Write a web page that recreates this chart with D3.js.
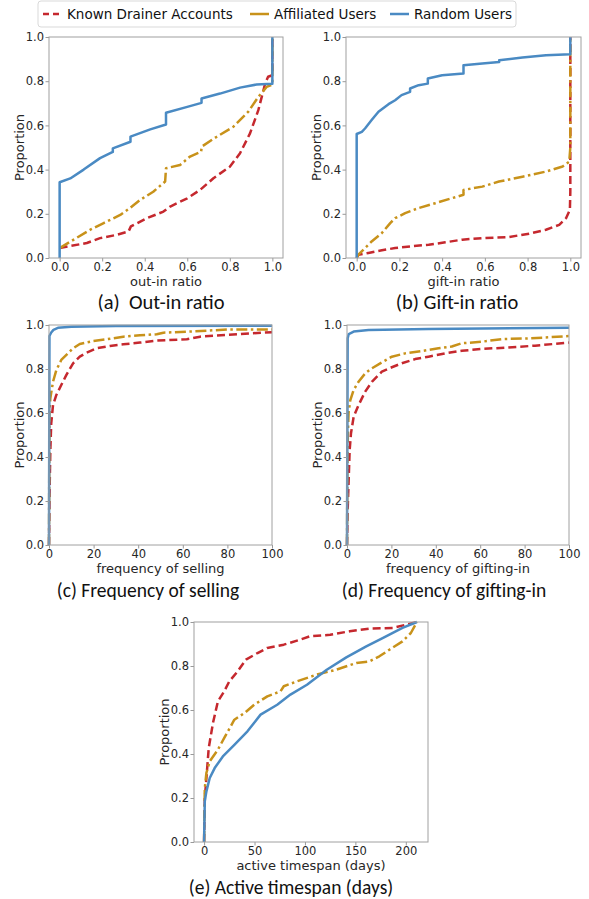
<!DOCTYPE html>
<html><head><meta charset="utf-8">
<script src="https://cdn.jsdelivr.net/npm/d3@7/dist/d3.min.js"></script>
<style>body{margin:0;background:#fff}svg{display:block}</style>
</head><body>
<svg id="chart" width="589" height="899"></svg>
<script>
// ---------- data ----------
const seriesNames = ["Known Drainer Accounts", "Affiliated Users", "Random Users"];
const yTicks = [0, 0.2, 0.4, 0.6, 0.8, 1.0];
const ratioTicks = [0, 0.2, 0.4, 0.6, 0.8, 1.0];
const freqTicks = [0, 20, 40, 60, 80, 100];
const spanTicks = [0, 50, 100, 150, 200];

// (a) out-in ratio
const outInKnown = [[0,0.045],[0.128,0.068],[0.19,0.09],[0.27,0.105],[0.324,0.12],[0.335,0.143],[0.41,0.18],[0.488,0.21],[0.52,0.233],[0.6,0.27],[0.66,0.308],[0.723,0.361],[0.8,0.413],[0.848,0.474],[0.895,0.564],[0.934,0.669],[0.966,0.789],[0.98,0.82],[1.0,0.827],[1.0,1.0]];
const outInAffiliated = [[0,0.045],[0.066,0.083],[0.144,0.128],[0.207,0.158],[0.285,0.195],[0.33,0.226],[0.379,0.263],[0.44,0.3],[0.496,0.346],[0.5,0.406],[0.566,0.421],[0.613,0.459],[0.665,0.481],[0.668,0.504],[0.739,0.549],[0.817,0.594],[0.887,0.662],[0.934,0.729],[0.973,0.774],[1.0,0.785],[1.0,1.0]];
const outInRandom = [[0,0],[0,0.343],[0.05,0.36],[0.113,0.4],[0.19,0.452],[0.25,0.48],[0.25,0.496],[0.333,0.526],[0.333,0.549],[0.426,0.582],[0.5,0.604],[0.5,0.657],[0.6,0.684],[0.667,0.702],[0.667,0.722],[0.754,0.744],[0.848,0.771],[0.926,0.785],[1.0,0.789],[1.0,1.0]];

// (b) gift-in ratio
const giftInKnown = [[0,0],[0.008,0.015],[0.055,0.023],[0.118,0.035],[0.18,0.045],[0.259,0.053],[0.337,0.06],[0.415,0.071],[0.494,0.083],[0.588,0.09],[0.713,0.095],[0.807,0.11],[0.886,0.128],[0.948,0.15],[0.98,0.18],[0.998,0.218],[1.0,0.3],[1.0,1.0]];
const giftInAffiliated = [[0,0],[0.008,0.015],[0.039,0.045],[0.07,0.075],[0.118,0.113],[0.157,0.158],[0.18,0.18],[0.227,0.203],[0.29,0.226],[0.368,0.248],[0.447,0.271],[0.5,0.286],[0.5,0.308],[0.588,0.323],[0.666,0.346],[0.776,0.368],[0.886,0.391],[0.964,0.414],[0.995,0.436],[1.0,0.5],[1.0,1.0]];
const giftInRandom = [[0,0],[0,0.561],[0.024,0.571],[0.039,0.586],[0.07,0.624],[0.102,0.662],[0.149,0.696],[0.18,0.714],[0.21,0.737],[0.25,0.752],[0.25,0.767],[0.29,0.782],[0.333,0.789],[0.333,0.812],[0.4,0.827],[0.5,0.835],[0.5,0.872],[0.588,0.88],[0.667,0.887],[0.667,0.895],[0.776,0.907],[0.886,0.917],[1.0,0.922],[1.0,1.0]];

// (c) frequency of selling
const sellKnown = [[0,0],[0.3,0.265],[0.6,0.43],[1,0.553],[1.8,0.636],[3.3,0.682],[5.5,0.727],[7.8,0.773],[10.8,0.826],[13.8,0.856],[16.8,0.874],[21.3,0.894],[27.3,0.905],[33.3,0.912],[40.8,0.92],[48.3,0.929],[61.8,0.935],[67.8,0.947],[79.8,0.955],[90.3,0.962],[100,0.967]];
const sellAffiliated = [[0,0],[0.2,0.6],[0.6,0.667],[1.8,0.742],[3.3,0.795],[5.5,0.841],[7.8,0.864],[10.8,0.894],[13.8,0.914],[19.8,0.927],[25.8,0.935],[33.3,0.947],[40.8,0.953],[48.3,0.958],[51.3,0.965],[61.8,0.97],[70.8,0.974],[79.8,0.98],[100,0.98]];
const sellRandom = [[0,0],[0.2,0.95],[1,0.966],[2,0.978],[4,0.987],[10,0.992],[30,0.995],[100,0.997]];

// (d) frequency of gifting-in
const giftFreqKnown = [[0,0],[0.3,0.159],[0.7,0.28],[1.2,0.432],[1.8,0.508],[3,0.583],[5.2,0.636],[8.2,0.697],[11.2,0.742],[15.7,0.788],[20.2,0.808],[24.7,0.826],[30.7,0.845],[36.7,0.856],[44.2,0.871],[51.7,0.883],[60.7,0.891],[72.7,0.898],[84.7,0.906],[100,0.92]];
const giftFreqAffiliated = [[0,0],[0.2,0.4],[0.4,0.5],[0.7,0.6],[1.5,0.659],[3,0.705],[5.2,0.742],[8.2,0.78],[11.2,0.803],[15.7,0.83],[20.2,0.856],[26.2,0.871],[33.7,0.882],[41.2,0.894],[47.2,0.902],[51.7,0.917],[60.7,0.924],[69.7,0.936],[81.7,0.939],[90.7,0.944],[100,0.95]];
const giftFreqRandom = [[0,0],[0.3,0.94],[0.8,0.959],[3,0.97],[9.7,0.977],[36.7,0.982],[100,0.988]];

// (e) active timespan (days)
const spanKnown = [[0,0],[0.7,0.2],[2.3,0.29],[4.6,0.427],[8.8,0.541],[13.7,0.639],[20,0.685],[25,0.73],[33.3,0.776],[41.5,0.829],[53,0.859],[62.7,0.882],[79,0.897],[95.4,0.92],[105,0.935],[125,0.942],[144.4,0.958],[164,0.97],[187,0.973],[211,1.0]];
const spanAffiliated = [[0,0],[0.7,0.245],[2.3,0.314],[5.6,0.367],[13.7,0.42],[20,0.473],[30,0.556],[40,0.586],[49.7,0.624],[62.7,0.662],[75.8,0.685],[79,0.708],[92,0.73],[111.8,0.761],[131,0.783],[151,0.814],[164,0.821],[173.8,0.844],[183.7,0.874],[196.7,0.912],[205,0.95],[211,1.0]];
const spanRandom = [[0,0],[0.7,0.185],[2.3,0.23],[5.6,0.291],[10.5,0.336],[18.6,0.389],[30,0.442],[43,0.503],[56,0.579],[72.5,0.624],[85.6,0.67],[102,0.715],[121.6,0.783],[141,0.839],[160.8,0.889],[177,0.927],[196.7,0.973],[211,1.0]];

// ---------- styles ----------
const colors = ["#c5282e", "#c8921a", "#4a8ac3"];
const dashes = ["8,4", "11,3.5,2.5,3.5", null];

const svg = d3.select("#chart");
const tickFont = "DejaVu Sans, sans-serif";
const capFont = "Carlito, Lato, sans-serif";

const panels = [
  {l:49, r:283, t:37, b:258, xd:[-0.05,1.05], xt:ratioTicks, fmt:d3.format(".1f"), xl:"out-in ratio", cap:"(a)\u00a0\u00a0Out-in ratio", capX:161, capDy:51, capSize:20.5, data:[outInKnown,outInAffiliated,outInRandom]},
  {l:346, r:581, t:37, b:258, xd:[-0.05,1.05], xt:ratioTicks, fmt:d3.format(".1f"), xl:"gift-in ratio", cap:"(b) Gift-in ratio", capX:457, capDy:51, capSize:20.5, data:[giftInKnown,giftInAffiliated,giftInRandom]},
  {l:49, r:272, t:325, b:545, xd:[0,100], xt:freqTicks, fmt:d3.format("d"), xl:"frequency of selling", cap:"(c) Frequency of selling", capX:148, capDy:52, capSize:19.5, data:[sellKnown,sellAffiliated,sellRandom]},
  {l:347, r:569, t:325, b:545, xd:[0,100], xt:freqTicks, fmt:d3.format("d"), xl:"frequency of gifting-in", cap:"(d) Frequency of gifting-in", capX:444, capDy:52, capSize:19.5, data:[giftFreqKnown,giftFreqAffiliated,giftFreqRandom]},
  {l:194, r:428, t:622, b:842, xd:[-10,222], xt:spanTicks, fmt:d3.format("d"), xl:"active timespan (days)", cap:"(e) Active timespan (days)", capX:291, capDy:52, capSize:19.5, data:[spanKnown,spanAffiliated,spanRandom]}
];

panels.forEach(p => {
  const x = d3.scaleLinear().domain(p.xd).range([p.l, p.r]);
  const y = d3.scaleLinear().domain([0,1]).range([p.b, p.t]);
  const g = svg.append("g");
  const clipId = "clip" + p.l + "_" + p.t;
  g.append("clipPath").attr("id", clipId).append("rect")
    .attr("x", p.l - 2).attr("y", p.t - 2).attr("width", p.r - p.l + 4).attr("height", p.b - p.t + 4);

  const line = d3.line().x(d => x(d[0])).y(d => y(d[1]));
  const lines = g.append("g").attr("clip-path", `url(#${clipId})`);
  p.data.forEach((s, i) => {
    lines.append("path").datum(s).attr("d", line)
      .attr("fill", "none").attr("stroke", colors[i]).attr("stroke-width", 2.5)
      .attr("stroke-dasharray", dashes[i]).attr("stroke-linejoin", "round");
  });

  const xa = g.append("g").attr("transform", `translate(0,${p.b})`)
    .call(d3.axisBottom(x).tickValues(p.xt).tickFormat(p.fmt).tickSizeInner(3.5).tickSizeOuter(0).tickPadding(1));
  const ya = g.append("g").attr("transform", `translate(${p.l},0)`)
    .call(d3.axisLeft(y).tickValues(yTicks).tickFormat(d3.format(".1f")).tickSizeInner(3.5).tickSizeOuter(0).tickPadding(1.5));
  [xa, ya].forEach(a => {
    a.select(".domain").remove();
    a.selectAll(".tick line").attr("stroke", "#999");
    a.selectAll("text").attr("fill", "#262626").style("font-family", tickFont).style("font-size", "11.5px");
  });

  g.append("rect").attr("x", p.l).attr("y", p.t).attr("width", p.r - p.l).attr("height", p.b - p.t)
    .attr("fill", "none").attr("stroke", "#a0a0a0").attr("stroke-width", 1);

  g.append("text").attr("x", (p.l + p.r) / 2).attr("y", p.b + 27.5)
    .attr("text-anchor", "middle").style("font-family", tickFont).style("font-size", "13px")
    .attr("fill", "#262626").text(p.xl);
  g.append("text").attr("transform", `translate(${p.l - 25},${(p.t + p.b) / 2}) rotate(-90)`)
    .attr("text-anchor", "middle").style("font-family", tickFont).style("font-size", "13px")
    .attr("fill", "#262626").text("Proportion");
  g.append("text").attr("x", p.capX).attr("y", p.b + p.capDy)
    .attr("text-anchor", "middle").style("font-family", capFont).style("font-size", p.capSize + "px")
    .attr("fill", "#111").text(p.cap);
});

// ---------- legend ----------
const lg = svg.append("g");
lg.append("rect").attr("x", 38).attr("y", 1).attr("width", 478).attr("height", 26).attr("rx", 3)
  .attr("fill", "#fff").attr("stroke", "#d9d9d9");
const legX = [43, 250, 390];
seriesNames.forEach((n, i) => {
  lg.append("line").attr("x1", legX[i]).attr("x2", legX[i] + 19).attr("y1", 14).attr("y2", 14)
    .attr("stroke", colors[i]).attr("stroke-width", 2.5).attr("stroke-dasharray", i === 0 ? "6,4" : null);
  lg.append("text").attr("x", legX[i] + 24).attr("y", 14).attr("dy", "0.35em")
    .style("font-family", tickFont).style("font-size", "13.5px").attr("fill", "#111").text(n);
});
</script>
</body></html>
